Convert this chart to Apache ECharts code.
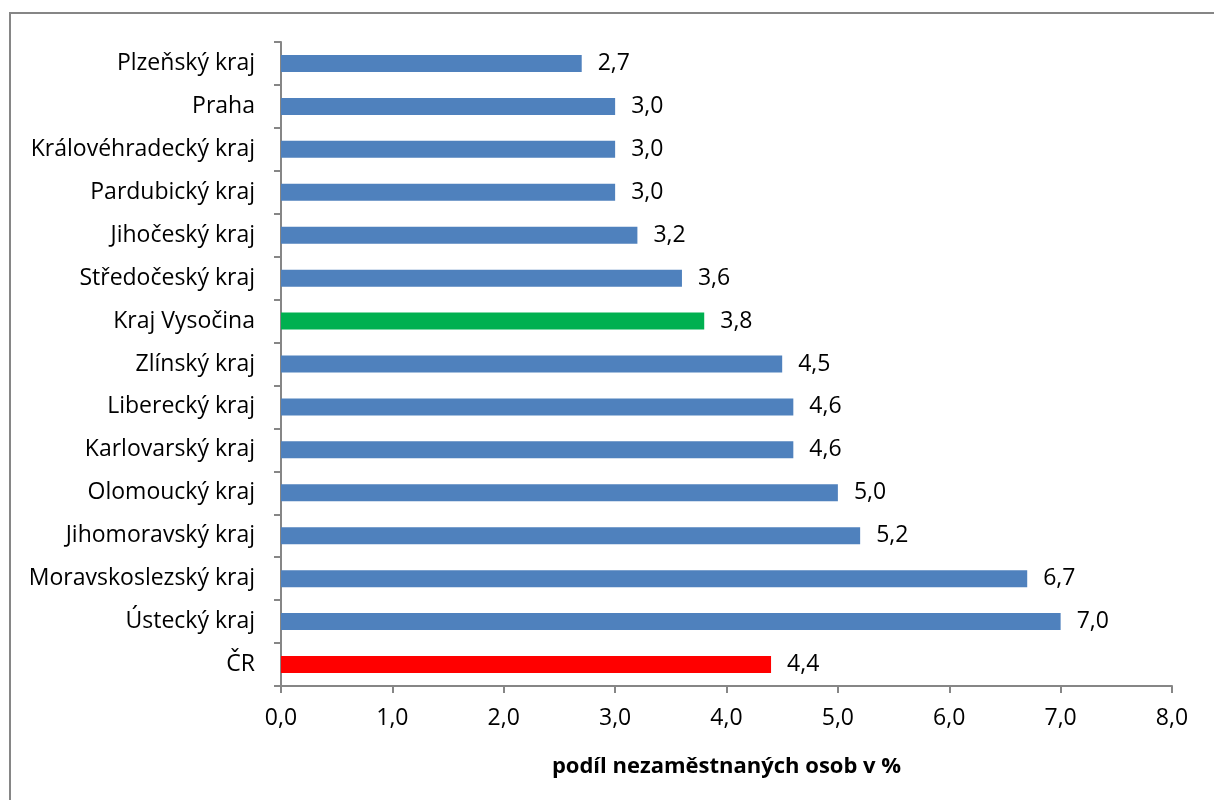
<!DOCTYPE html>
<html>
<head>
<meta charset="utf-8">
<script src="https://cdn.jsdelivr.net/npm/echarts@6/dist/echarts.min.js"></script>
<style>
  html, body { margin: 0; padding: 0; background: #fff; }
  #chart { width: 1214px; height: 800px; }
</style>
</head>
<body>
<div id="chart"></div>
<script>
// kraje, shora dolů
const regions = [
  "Plzeňský kraj", "Praha", "Královéhradecký kraj", "Pardubický kraj",
  "Jihočeský kraj", "Středočeský kraj", "Kraj Vysočina", "Zlínský kraj",
  "Liberecký kraj", "Karlovarský kraj", "Olomoucký kraj", "Jihomoravský kraj",
  "Moravskoslezský kraj", "Ústecký kraj", "ČR"
];
// podíl nezaměstnaných osob v %
const shares = [2.7, 3.0, 3.0, 3.0, 3.2, 3.6, 3.8, 4.5, 4.6, 4.6, 5.0, 5.2, 6.7, 7.0, 4.4];
const xTicks = [0, 1, 2, 3, 4, 5, 6, 7, 8];

const colorDefault = "#4F81BD";
const colorHighlight = { "Kraj Vysočina": "#00B050", "ČR": "#FF0000" };
const font = "'Open Sans', sans-serif";

const chart = echarts.init(document.getElementById("chart"));

chart.setOption({
  animation: false,
  graphic: [{
    type: "rect",
    shape: { x: 10, y: 13, width: 1230, height: 820 },
    style: { fill: "none", stroke: "#868686", lineWidth: 2 },
    silent: true
  }],
  grid: { left: 281, right: 42, top: 42, bottom: 114 },
  xAxis: {
    type: "value",
    min: xTicks[0],
    max: xTicks[xTicks.length - 1],
    interval: 1,
    name: "podíl nezaměstnaných osob v %",
    nameLocation: "middle",
    nameGap: 70,
    nameTextStyle: { fontFamily: font, fontSize: 22, fontWeight: "bold", color: "#000" },
    axisLine: { show: true, lineStyle: { color: "#868686", width: 2 } },
    axisTick: { show: true, length: 7, lineStyle: { color: "#868686", width: 2 } },
    axisLabel: {
      fontFamily: font, fontSize: 23, color: "#000", margin: 21,
      formatter: (v) => v.toFixed(1).replace(".", ",")
    },
    splitLine: { show: false }
  },
  yAxis: {
    type: "category",
    inverse: true,
    data: regions,
    axisLine: { show: true, lineStyle: { color: "#868686", width: 2 } },
    axisTick: { show: true, length: 7, lineStyle: { color: "#868686", width: 2 } },
    axisLabel: { fontFamily: font, fontSize: 23, color: "#000", margin: 26 }
  },
  series: [{
    type: "bar",
    barWidth: 17,
    data: shares.map((v, i) => ({
      value: v,
      itemStyle: { color: colorHighlight[regions[i]] || colorDefault }
    })),
    label: {
      show: true,
      position: "right",
      distance: 16,
      fontFamily: font,
      fontSize: 23,
      color: "#000",
      formatter: (p) => p.value.toFixed(1).replace(".", ",")
    }
  }]
});
</script>
</body>
</html>
